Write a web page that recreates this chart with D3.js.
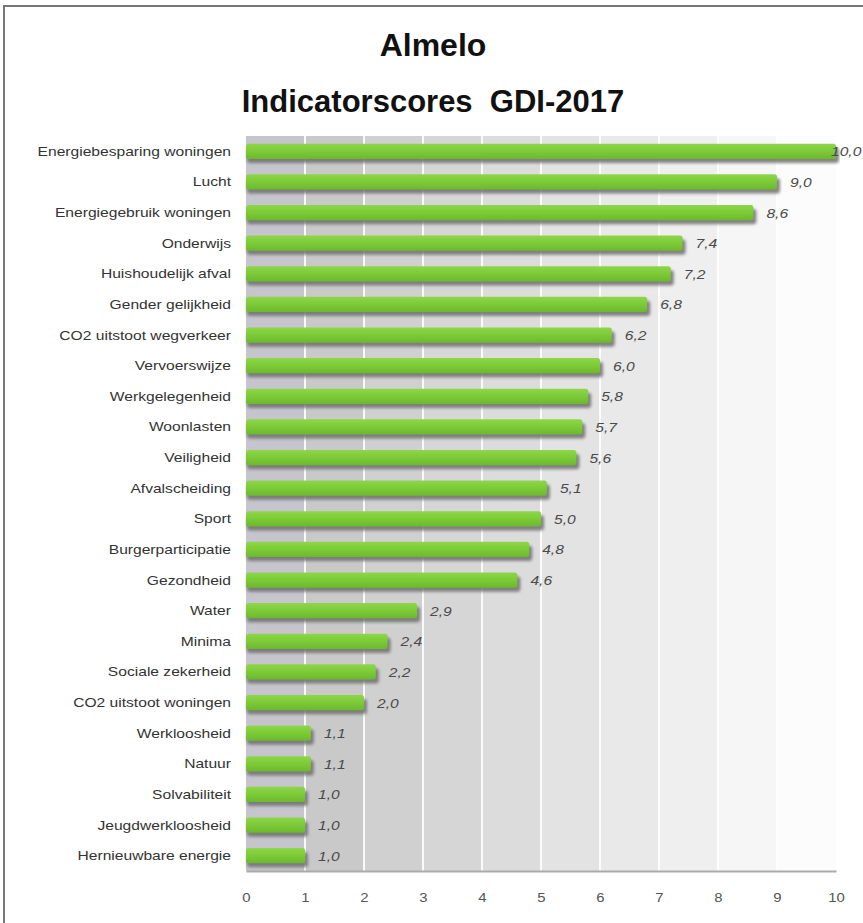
<!DOCTYPE html>
<html><head><meta charset="utf-8">
<script src="https://cdn.jsdelivr.net/npm/d3@7"></script>
<style>
html,body{margin:0;padding:0;background:#fff;}
svg{display:block;}
text{font-family:"Liberation Sans",Arial,sans-serif;}
</style></head>
<body>
<script>
const categories = ["Energiebesparing woningen","Lucht","Energiegebruik woningen","Onderwijs","Huishoudelijk afval","Gender gelijkheid","CO2 uitstoot wegverkeer","Vervoerswijze","Werkgelegenheid","Woonlasten","Veiligheid","Afvalscheiding","Sport","Burgerparticipatie","Gezondheid","Water","Minima","Sociale zekerheid","CO2 uitstoot woningen","Werkloosheid","Natuur","Solvabiliteit","Jeugdwerkloosheid","Hernieuwbare energie"];
const values = [10.0,9.0,8.6,7.4,7.2,6.8,6.2,6.0,5.8,5.7,5.6,5.1,5.0,4.8,4.6,2.9,2.4,2.2,2.0,1.1,1.1,1.0,1.0,1.0];
const tickValues = [0,1,2,3,4,5,6,7,8,9,10];
const titleLines = ["Almelo","Indicatorscores  GDI-2017"];

const W = 863, H = 923;
const svg = d3.select("body").append("svg").attr("width", W).attr("height", H);
const defs = svg.append("defs");
const blur = defs.append("filter").attr("id","sh").attr("x","-10%").attr("y","-50%").attr("width","130%").attr("height","200%");
blur.append("feGaussianBlur").attr("stdDeviation", 1.4);
const gg = defs.append("linearGradient").attr("id","gb").attr("x1",0).attr("y1",0).attr("x2",0).attr("y2",1);
gg.append("stop").attr("offset","0%").attr("stop-color","#8ed64a");
gg.append("stop").attr("offset","45%").attr("stop-color","#7dcc38");
gg.append("stop").attr("offset","100%").attr("stop-color","#6db82e");
defs.append("clipPath").attr("id","cp").append("rect").attr("x",244).attr("y",134).attr("width",596).attr("height",740);

// page frame
svg.append("rect").attr("x",4).attr("y",6).attr("width",W+20).attr("height",H+20)
  .attr("fill","none").attr("stroke","#777").attr("stroke-width",2);

const x = d3.scaleLinear().domain([0,10]).range([246,836]);
const y = d3.scaleBand().domain(categories).range([136,871]).paddingInner(0.5).paddingOuter(0.25);

// background bands
const bandColor = d3.scaleLinear().domain([1,10]).range(["#c3c3c3","#fcfcfc"]);
svg.append("g").selectAll("rect").data(tickValues.slice(0,-1)).join("rect")
  .attr("x", d => x(d)).attr("y",136).attr("width", d => x(d+1)-x(d)).attr("height",735)
  .attr("fill", d => d===0 ? "#c6c4cc" : bandColor(d+1));
// gridlines
svg.append("g").selectAll("line").data(tickValues.slice(1,-1)).join("line")
  .attr("x1", d => x(d)).attr("x2", d => x(d)).attr("y1",136).attr("y2",871)
  .attr("stroke","#fff").attr("stroke-width",2).attr("opacity",0.9);

// bars
const bars = svg.append("g").attr("clip-path","url(#cp)");
bars.selectAll("rect.s").data(values).join("rect").attr("class","s")
  .attr("x", x(0)+1).attr("y", (d,i) => y(categories[i]) + 4)
  .attr("width", d => x(d)-x(0)+2).attr("height", y.bandwidth())
  .attr("rx",3).attr("fill","#6f6f6f").attr("opacity",0.85).attr("filter","url(#sh)");
bars.selectAll("rect.b").data(values).join("rect").attr("class","b")
  .attr("x", x(0)).attr("y", (d,i) => y(categories[i]))
  .attr("width", d => x(d)-x(0)).attr("height", y.bandwidth())
  .attr("rx",2.5).attr("fill","url(#gb)");

// value labels
svg.append("g").selectAll("text").data(values).join("text")
  .attr("transform", (d,i) => `translate(${Math.min(x(d)+13, 831)},${y(categories[i]) + y.bandwidth()/2 + 5}) scale(1.2,1)`)
  .attr("font-size",13).attr("font-style","italic").attr("fill","#4a4a4a")
  .text(d => d3.format(".1f")(d).replace(".",","));

// category labels
svg.append("g").selectAll("text").data(categories).join("text")
  .attr("transform", d => `translate(231,${y(d) + y.bandwidth()/2 + 4.5}) scale(1.25,1)`)
  .attr("text-anchor","end").attr("font-size",12.5).attr("fill","#333")
  .text(d => d);

// x axis
const ax = svg.append("g").attr("transform","translate(0,871)")
  .call(d3.axisBottom(x).tickValues(tickValues).tickSize(0).tickPadding(22).tickFormat(d3.format("d")));
ax.select(".domain").attr("stroke","#aaa").attr("stroke-width",2);
ax.selectAll("text").attr("font-size",13).attr("fill","#555")
  .attr("font-family","'Liberation Sans',Arial,sans-serif")
  .attr("transform","scale(1.15,1)");

// title
svg.append("g").selectAll("text").data(titleLines).join("text")
  .attr("x",433).attr("y",(d,i) => i===0 ? 56 : 112)
  .attr("text-anchor","middle").attr("font-size",(d,i) => i===0 ? 32 : 31).attr("font-weight","bold").attr("fill","#111")
  .attr("xml:space","preserve").style("white-space","pre")
  .text(d => d);
</script>
</body></html>
